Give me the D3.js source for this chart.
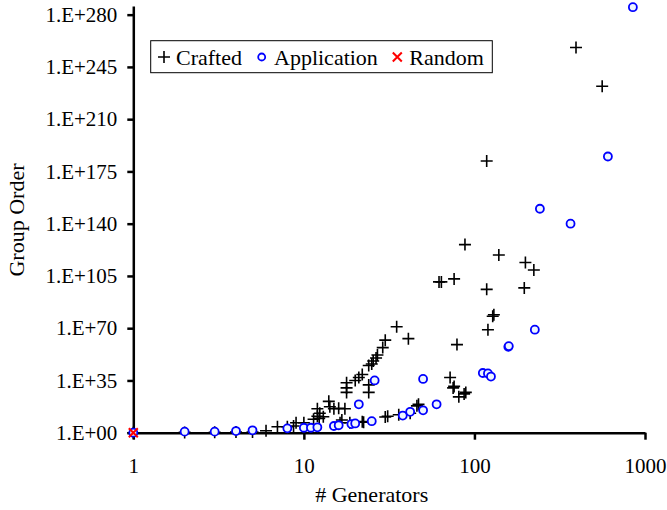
<!DOCTYPE html>
<html>
<head>
<meta charset="utf-8">
<script src="https://cdn.jsdelivr.net/npm/d3@7"></script>
<style>
  body { margin: 0; background: #fff; }
  text { font-family: "Liberation Serif", "Times New Roman", serif; fill: #000; }
</style>
</head>
<body>
<svg width="667" height="510"></svg>
<script>
// [# generators, log10(group order)]
const crafted = [
  [1, 0], [2, 0.2], [3, 0.3], [4, 0.4], [5, 0.5], [6, 1.3], [7, 4], [8, 4], [8.7, 4.5],
  [9, 6.7], [10, 6.7], [11.4, 9], [12, 11], [12.3, 9.6], [12.4, 13], [12, 16], [13, 10.7],
  [14, 21], [14.2, 17.4], [15, 16], [16, 16.3], [16.3, 6.7], [16.7, 8.5], [17.4, 16],
  [17.8, 33.5], [17.8, 30], [17.8, 27], [18.6, 6.7], [20, 35], [21, 37], [22, 39],
  [22, 7.4], [22.4, 7], [24, 45], [25, 46], [25.5, 48], [26.5, 50], [27, 52], [29, 57],
  [30, 62], [24, 32], [24, 27], [35, 71], [41, 63], [30, 10.5], [31, 11], [36, 12],
  [42, 13], [46, 18], [47, 19], [62, 101], [64, 101], [76, 103], [72, 37], [76, 31],
  [75, 30], [79, 59], [81, 24], [87, 26], [89, 27], [88, 126], [118, 182], [118, 96],
  [120, 69], [128, 78], [130, 79], [139, 119], [196, 97], [199, 114], [223, 109],
  [394, 258], [561, 232]
];
const application = [
  [1, 0], [2, 0.7], [3, 0.7], [4, 1.1], [5, 1.6], [8, 2.9], [10, 3.3], [11, 3.3], [12, 3.6],
  [15, 4.5], [16, 5], [19, 5.8], [20, 6.2], [21, 19], [25, 7.7], [26, 35], [38, 11.5],
  [42, 14], [50, 15], [50, 36], [60, 19], [112, 40], [120, 39.7], [125, 37.6],
  [158, 57.5], [159, 58], [226, 69], [242, 150], [366, 140], [606, 185], [849, 285]
];
const random = [[1, 0]];

const xTicks = [1, 10, 100, 1000];
const yTicks = [0, 35, 70, 105, 140, 175, 210, 245, 280];
const seriesNames = ["Crafted", "Application", "Random"];

const svg = d3.select("svg");

var x = d3.scaleLog().domain([1, 1000]).range([133.3, 645]);
var y = d3.scaleLinear().domain([0, 285.8]).range([432.7, 6]);

const crossPath = "M-6,0H6M0,-6V6";
const xPath = "M-4.5,-4.5L4.5,4.5M-4.5,4.5L4.5,-4.5";

// axes
var yAxis = svg.append("g")
    .attr("transform", "translate(" + x(1) + ",0)")
    .call(d3.axisLeft(y).tickValues(yTicks).tickSize(6).tickSizeOuter(0).tickPadding(10)
        .tickFormat(d => "1.E+" + (d < 10 ? "0" + d : d)));

var xAxis = svg.append("g")
    .attr("transform", "translate(0," + y(0) + ")")
    .call(d3.axisBottom(x).tickValues(xTicks).tickSize(7).tickSizeOuter(0).tickPadding(18)
        .tickFormat(d3.format("d")));

[xAxis, yAxis].forEach(g => {
    g.selectAll("path, line").attr("stroke", "#000").attr("stroke-width", 2.5);
    g.selectAll("text").attr("font-size", 21).attr("font-family", "Liberation Serif");
});

svg.append("text")
    .attr("x", x(25))
    .attr("y", 502)
    .attr("text-anchor", "middle")
    .attr("font-size", 22)
    .text("# Generators");

svg.append("text")
    .attr("transform", "translate(24,220) rotate(-90)")
    .attr("text-anchor", "middle")
    .attr("font-size", 22)
    .text("Group Order");

// series
svg.append("g")
    .selectAll("path")
    .data(crafted)
    .enter().append("path")
    .attr("d", crossPath)
    .attr("transform", d => "translate(" + x(d[0]) + "," + y(d[1]) + ")")
    .attr("stroke", "#000")
    .attr("stroke-width", 1.6)
    .attr("fill", "none");

svg.append("g")
    .selectAll("circle")
    .data(application)
    .enter().append("circle")
    .attr("cx", d => x(d[0]))
    .attr("cy", d => y(d[1]))
    .attr("r", 4)
    .attr("fill", "#eef6ff")
    .attr("stroke", "#0000ff")
    .attr("stroke-width", 1.8);

svg.append("g")
    .selectAll("path")
    .data(random)
    .enter().append("path")
    .attr("d", xPath)
    .attr("transform", d => "translate(" + x(d[0]) + "," + y(d[1]) + ")")
    .attr("stroke", "#ff0000")
    .attr("stroke-width", 2)
    .attr("fill", "none");

// legend
var legend = svg.append("g");
legend.append("rect")
    .attr("x", 150.7).attr("y", 40.7)
    .attr("width", 341.6).attr("height", 32)
    .attr("fill", "#fff").attr("stroke", "#000").attr("stroke-width", 1);

const legendX = [164, 261.7, 397.3];
const legendTextX = [176, 274, 409.3];

legend.append("path")
    .attr("d", crossPath)
    .attr("transform", "translate(" + legendX[0] + ",57)")
    .attr("stroke", "#000").attr("stroke-width", 1.6);
legend.append("circle")
    .attr("cx", legendX[1]).attr("cy", 57).attr("r", 3.5)
    .attr("fill", "#fff").attr("stroke", "#0000ff").attr("stroke-width", 1.8);
legend.append("path")
    .attr("d", xPath)
    .attr("transform", "translate(" + legendX[2] + ",57)")
    .attr("stroke", "#ff0000").attr("stroke-width", 2);

legend.selectAll("text.lbl")
    .data(seriesNames)
    .enter().append("text")
    .attr("class", "lbl")
    .attr("x", (d, i) => legendTextX[i])
    .attr("y", 64.5)
    .attr("font-size", 22)
    .text(d => d);
</script>
</body>
</html>
